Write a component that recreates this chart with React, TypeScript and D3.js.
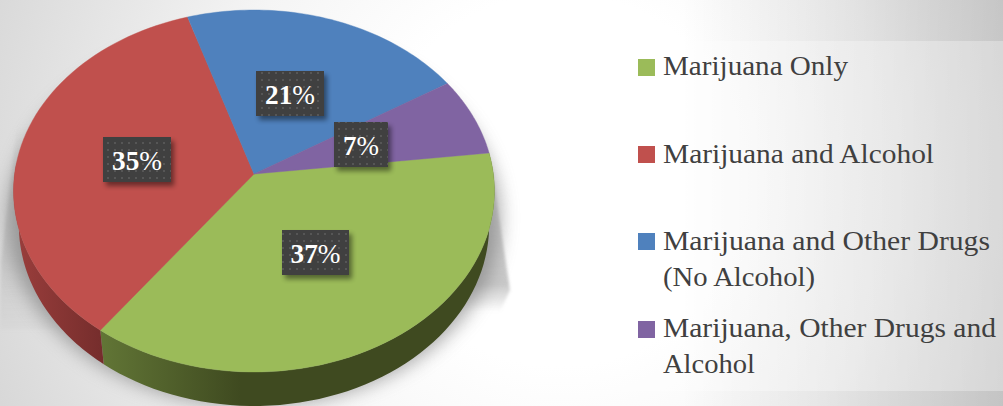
import React from "react";
import * as d3 from "d3";

const categories = ["Marijuana Only", "Marijuana and Alcohol", "Marijuana and Other Drugs (No Alcohol)", "Marijuana, Other Drugs and Alcohol"];
const percent = [37, 35, 21, 7];
const colors = ["#9bbb59", "#c0504d", "#4f81bd", "#8064a2"];
const legendLines = [["Marijuana Only"], ["Marijuana and Alcohol"], ["Marijuana and Other Drugs", "(No Alcohol)"], ["Marijuana, Other Drugs and", "Alcohol"]];

const W = 1003, H = 406;
const legendLayout = [
  { sw: 59, base: [75], len: [185] },
  { sw: 146, base: [163], len: [271] },
  { sw: 233, base: [250, 286], len: [327, 152] },
  { sw: 321, base: [337, 373], len: [333, 92] },
];
const boxLayout = [
  { x: 282, y: 230, w: 67, tw: 50 },
  { x: 103, y: 137, w: 68, tw: 50 },
  { x: 256, y: 71, w: 68, tw: 50 },
  { x: 334, y: 122, w: 54, tw: 36 },
];

const k = -0.0939;
const project = (theta: number, depth = 0, grow = 1): [number, number] => {
  const u = Math.sin(theta), v = -Math.cos(theta);
  const den = 1 + k * v;
  const s = (1 - depth * 0.00065) * grow;
  return [254 + (239.4 * s * u) / den, 174 + depth + (179.4 * grow * v) / den];
};
const DEPTH = 34;

const START = (83.2 * Math.PI) / 180;
const pieGen = d3.pie<number>().sort(null).startAngle(START).endAngle(START + 2 * Math.PI);
const arcs = pieGen(percent);
const line = d3.line();
const sample = (a: number, b: number) => d3.range(0, 61).map((i) => a + ((b - a) * i) / 60);
const facePath = (a: number, b: number) => line([[254, 174], ...sample(a, b).map((t) => project(t))]) + "Z";
const wallPath = (a: number, b: number) =>
  line([...sample(a, b).map((t) => project(t)), ...sample(b, a).map((t) => project(t, DEPTH))]) + "Z";
const RED_WALL_END = arcs[1].startAngle + 1.0;

export default function App() {
  document.body.style.margin = "0";
  const softShadow = line(sample(0, 2 * Math.PI).map((t) => project(t, DEPTH - 8, 1.045))) + "Z";
  const leftSpike = line([[17, 125], [1, 262], [0, 330], [60, 330], [60, 125]]) + "Z";
  const rightSpike = line([[492, 170], [510, 290], [500, 312], [440, 312], [440, 170]]) + "Z";
  return (
    <svg width={W} height={H} style={{ position: "absolute", left: 0, top: 0, display: "block" }}>
      <defs>
        <radialGradient id="bg" gradientUnits="userSpaceOnUse" cx={560} cy={180} r={620}>
          <stop offset="0.3" stopColor="#ffffff" />
          <stop offset="0.55" stopColor="#f5f5f5" />
          <stop offset="1" stopColor="#d6d6d6" />
        </radialGradient>
        <linearGradient id="rightDark" gradientUnits="userSpaceOnUse" x1={680} x2={1003} y1={0} y2={0}>
          <stop offset="0" stopColor="#000" stopOpacity={0} />
          <stop offset="1" stopColor="#000" stopOpacity={0.14} />
        </linearGradient>
        <linearGradient id="leftFade" gradientUnits="userSpaceOnUse" x1={0} x2={0} y1={125} y2={345}>
          <stop offset="0" stopColor="#999" stopOpacity={0} />
          <stop offset="0.25" stopColor="#999" stopOpacity={0.3} />
          <stop offset="0.6" stopColor="#999" stopOpacity={0.3} />
          <stop offset="1" stopColor="#999" stopOpacity={0} />
        </linearGradient>
        <linearGradient id="rightFade" gradientUnits="userSpaceOnUse" x1={0} x2={0} y1={170} y2={312}>
          <stop offset="0" stopColor="#999" stopOpacity={0.35} />
          <stop offset="0.8" stopColor="#999" stopOpacity={0.55} />
          <stop offset="1" stopColor="#999" stopOpacity={0} />
        </linearGradient>
        <filter id="soft" x="-20%" y="-20%" width="140%" height="140%"><feGaussianBlur stdDeviation="9" /></filter>
        <filter id="spike" x="-20%" y="-20%" width="140%" height="140%"><feGaussianBlur stdDeviation="1.5" /></filter>
        <filter id="boxShadow" x="-30%" y="-30%" width="160%" height="170%"><feGaussianBlur stdDeviation="2.5" /></filter>
        <linearGradient id="greenWall" gradientUnits="userSpaceOnUse" x1={99} x2={240} y1={0} y2={0}>
          <stop offset="0" stopColor="#627636" />
          <stop offset="1" stopColor="#3f4a20" />
        </linearGradient>
        <linearGradient id="redWall" gradientUnits="userSpaceOnUse" x1={20} x2={103} y1={0} y2={0}>
          <stop offset="0" stopColor="#983d3b" />
          <stop offset="1" stopColor="#752d2c" />
        </linearGradient>
        <pattern id="dots" patternUnits="userSpaceOnUse" width={7} height={7}>
          <rect width={7} height={7} fill="#404040" />
          <rect x={2} y={2} width={2} height={2} fill="#565656" />
        </pattern>
      </defs>
      <rect width={W} height={H} fill="url(#bg)" />
      <rect width={W} height={H} fill="url(#rightDark)" />
      <path d={leftSpike} fill="url(#leftFade)" filter="url(#spike)" />
      <path d={rightSpike} fill="url(#rightFade)" filter="url(#spike)" />
      <path d={softShadow} fill="#777" opacity={0.6} filter="url(#soft)" />

      <path d={wallPath(arcs[0].startAngle, arcs[0].endAngle)} fill="url(#greenWall)" />
      <path d={wallPath(arcs[1].startAngle, RED_WALL_END)} fill="url(#redWall)" />
      {arcs.map((a, i) => (
        <path key={categories[i]} d={facePath(a.startAngle, a.endAngle)} fill={colors[i]} stroke={colors[i]} strokeWidth={0.4} />
      ))}

      {boxLayout.map((b, i) => (
        <g key={i}>
          <rect x={b.x + 3} y={b.y + 4} width={b.w} height={45} fill="#000" opacity={0.45} filter="url(#boxShadow)" />
          <rect x={b.x} y={b.y} width={b.w} height={45} fill="url(#dots)" />
          <text x={b.x + b.w / 2} y={b.y + 33} textAnchor="middle" textLength={b.tw} lengthAdjust="spacingAndGlyphs"
            fontFamily="'Liberation Serif', serif" fontSize={27} fill="#fff">
            <tspan fontWeight="bold">{percent[i]}</tspan>%
          </text>
        </g>
      ))}

      <rect x={624} y={41} width={W - 624} height={350} fill="#fff" opacity={0.3} />
      {legendLayout.map((l, i) => (
        <g key={i}>
          <rect x={638} y={l.sw} width={17} height={17} fill={colors[i]} />
          {legendLines[i].map((t, j) => (
            <text key={t} x={663} y={l.base[j]} textLength={l.len[j]} lengthAdjust="spacingAndGlyphs"
              fontFamily="'Liberation Serif', serif" fontSize={28} fill="#404040">
              {t}
            </text>
          ))}
        </g>
      ))}
    </svg>
  );
}
